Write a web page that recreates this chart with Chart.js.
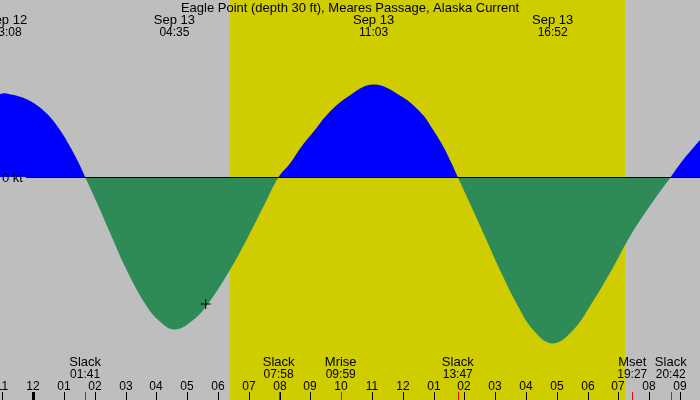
<!DOCTYPE html>
<html lang="en">
<head>
  <meta charset="UTF-8">
  <title>Eagle Point current</title>
  <script src="https://cdn.jsdelivr.net/npm/chart.js"></script>
  <style>
    body { margin: 0; padding: 0; background: #bebebe; }
    #wrap { width: 700px; height: 400px; }
  </style>
</head>
<body>
  <div id="wrap"><canvas id="tide-chart" width="700" height="400"></canvas></div>
  <script>
    const title = 'Eagle Point (depth 30 ft), Meares Passage, Alaska Current';

    // curve samples: hours from Sep 13 00:00, speed in kt
    const hours = [-1.081, -0.867, -0.162, 0.435, 0.867, 1.192, 1.484, 1.683,
      2.078, 2.545, 3.032, 3.627, 4.058, 4.583, 5.195, 5.682, 6.386, 6.981, 7.523, 7.967,
      8.334, 8.714, 9.146, 9.578, 10.227, 11.05, 11.96, 12.61, 12.987, 13.312, 13.585, 13.783,
      14.18, 14.666, 15.153, 15.695, 16.234, 16.867, 17.532, 18.13, 18.78, 19.373, 20.078, 20.70,
      21.10, 21.65];
    const knots = [1.66, 1.67, 1.54, 1.27, 0.94, 0.61, 0.27, 0,
      -0.53, -1.19, -1.86, -2.53, -2.86, -3.05, -2.86, -2.53, -1.86, -1.19, -0.53, 0,
      0.27, 0.61, 0.94, 1.27, 1.61, 1.85, 1.61, 1.27, 0.94, 0.61, 0.27, 0,
      -0.53, -1.19, -1.86, -2.53, -3.06, -3.33, -3.06, -2.53, -1.86, -1.19, -0.53, 0,
      0.34, 0.74];

    // max flood / max ebb labels along the top
    const peakDates = ['Sep 12', 'Sep 13', 'Sep 13', 'Sep 13'];
    const peakTimes = ['23:08', '04:35', '11:03', '16:52'];
    const peakDayOffset = [-1, 0, 0, 0];

    // events along the bottom
    const eventNames = ['Slack', 'Slack', 'Mrise', 'Slack', 'Mset', 'Slack'];
    const eventTimes = ['01:41', '07:58', '09:59', '13:47', '19:27', '20:42'];

    // hour ticks
    const tickHours = [-1, 0, 1, 2, 3, 4, 5, 6, 7, 8, 9, 10, 11, 12, 13, 14, 15, 16, 17, 18, 19, 20, 21];
    const tickLabels = ['11', '12', '01', '02', '03', '04', '05', '06', '07', '08', '09', '10',
      '11', '12', '01', '02', '03', '04', '05', '06', '07', '08', '09'];

    const sunrise = '06:23';
    const sunset = '19:13';
    const nowTime = '05:36';
    const nowKnots = -2.54;

    const xMin = -1.08, xMax = 21.65;
    const yMin = -4.46, yMax = 3.54;
    const wordFont = '13px "Liberation Sans", Arial, sans-serif';
    const numFont = '12px "Liberation Sans", Arial, sans-serif';

    function toHours(hhmm, dayOffset) {
      const parts = hhmm.split(':');
      return (dayOffset || 0) * 24 + Number(parts[0]) + Number(parts[1]) / 60;
    }

    const backdrop = {
      id: 'backdrop',
      beforeDraw(chart) {
        const ctx = chart.ctx;
        const x = chart.scales.x;
        ctx.save();
        ctx.fillStyle = '#bebebe';
        ctx.fillRect(0, 0, chart.width, chart.height);
        const x1 = Math.round(x.getPixelForValue(toHours(sunrise)));
        const x2 = Math.round(x.getPixelForValue(toHours(sunset)));
        ctx.fillStyle = '#cfcc00';
        ctx.fillRect(x1, 0, x2 - x1, chart.height);
        ctx.restore();
      }
    };

    const annotations = {
      id: 'annotations',
      afterDatasetsDraw(chart) {
        const ctx = chart.ctx;
        const x = chart.scales.x;
        const y = chart.scales.y;
        const h = chart.height;
        ctx.save();
        ctx.fillStyle = '#000';
        ctx.textBaseline = 'alphabetic';

        // zero line and label
        const y0 = Math.round(y.getPixelForValue(0)) + 0.5;
        ctx.strokeStyle = '#000';
        ctx.lineWidth = 1;
        ctx.beginPath();
        ctx.moveTo(26, y0);
        ctx.lineTo(chart.width, y0);
        ctx.stroke();
        ctx.font = wordFont;
        ctx.textAlign = 'left';
        ctx.fillText('0 kt', 2, y0 + 4);

        // title
        ctx.textAlign = 'center';
        ctx.fillText(title, chart.width / 2, 12);

        // extremes
        peakTimes.forEach((t, i) => {
          const px = x.getPixelForValue(toHours(t, peakDayOffset[i]));
          ctx.font = wordFont;
          ctx.fillText(peakDates[i], px, 24);
          ctx.font = numFont;
          ctx.fillText(t, px, 36);
        });

        // events
        eventTimes.forEach((t, i) => {
          const px = x.getPixelForValue(toHours(t));
          ctx.font = wordFont;
          ctx.fillText(eventNames[i], px, 366);
          ctx.font = numFont;
          ctx.fillText(t, px, 378);
        });

        // hour ticks
        ctx.font = numFont;
        tickHours.forEach((hr, i) => {
          const px = Math.round(x.getPixelForValue(hr));
          ctx.fillText(tickLabels[i], px, 390);
          const w = hr === 0 ? 3 : 1;
          ctx.fillRect(px - Math.floor(w / 2), h - 8, w, 8);
        });

        // event ticks in red
        ctx.fillStyle = '#ff0000';
        eventTimes.forEach(t => {
          const px = Math.round(x.getPixelForValue(toHours(t)));
          ctx.fillRect(px, h - 8, 1, 8);
        });
        ctx.restore();
      }
    };

    const points = hours.map((hr, i) => ({ x: hr, y: knots[i] }));

    new Chart(document.getElementById('tide-chart'), {
      type: 'line',
      data: {
        datasets: [
          {
            data: points,
            order: 2,
            borderWidth: 0,
            borderColor: 'rgba(0,0,0,0)',
            pointRadius: 0,
            tension: 0.4,
            fill: { target: 'origin', above: '#0000ff', below: '#2e8b57' }
          },
          {
            type: 'scatter',
            order: 1,
            data: [{ x: toHours(nowTime), y: nowKnots }],
            pointStyle: 'cross',
            pointRadius: 5,
            borderColor: '#000',
            borderWidth: 1
          }
        ]
      },
      options: {
        responsive: false,
        animation: false,
        layout: { padding: 0, autoPadding: false },
        plugins: { legend: { display: false }, tooltip: { enabled: false } },
        scales: {
          x: { type: 'linear', display: false, min: xMin, max: xMax },
          y: { display: false, min: yMin, max: yMax }
        }
      },
      plugins: [backdrop, annotations]
    });
  </script>
</body>
</html>
